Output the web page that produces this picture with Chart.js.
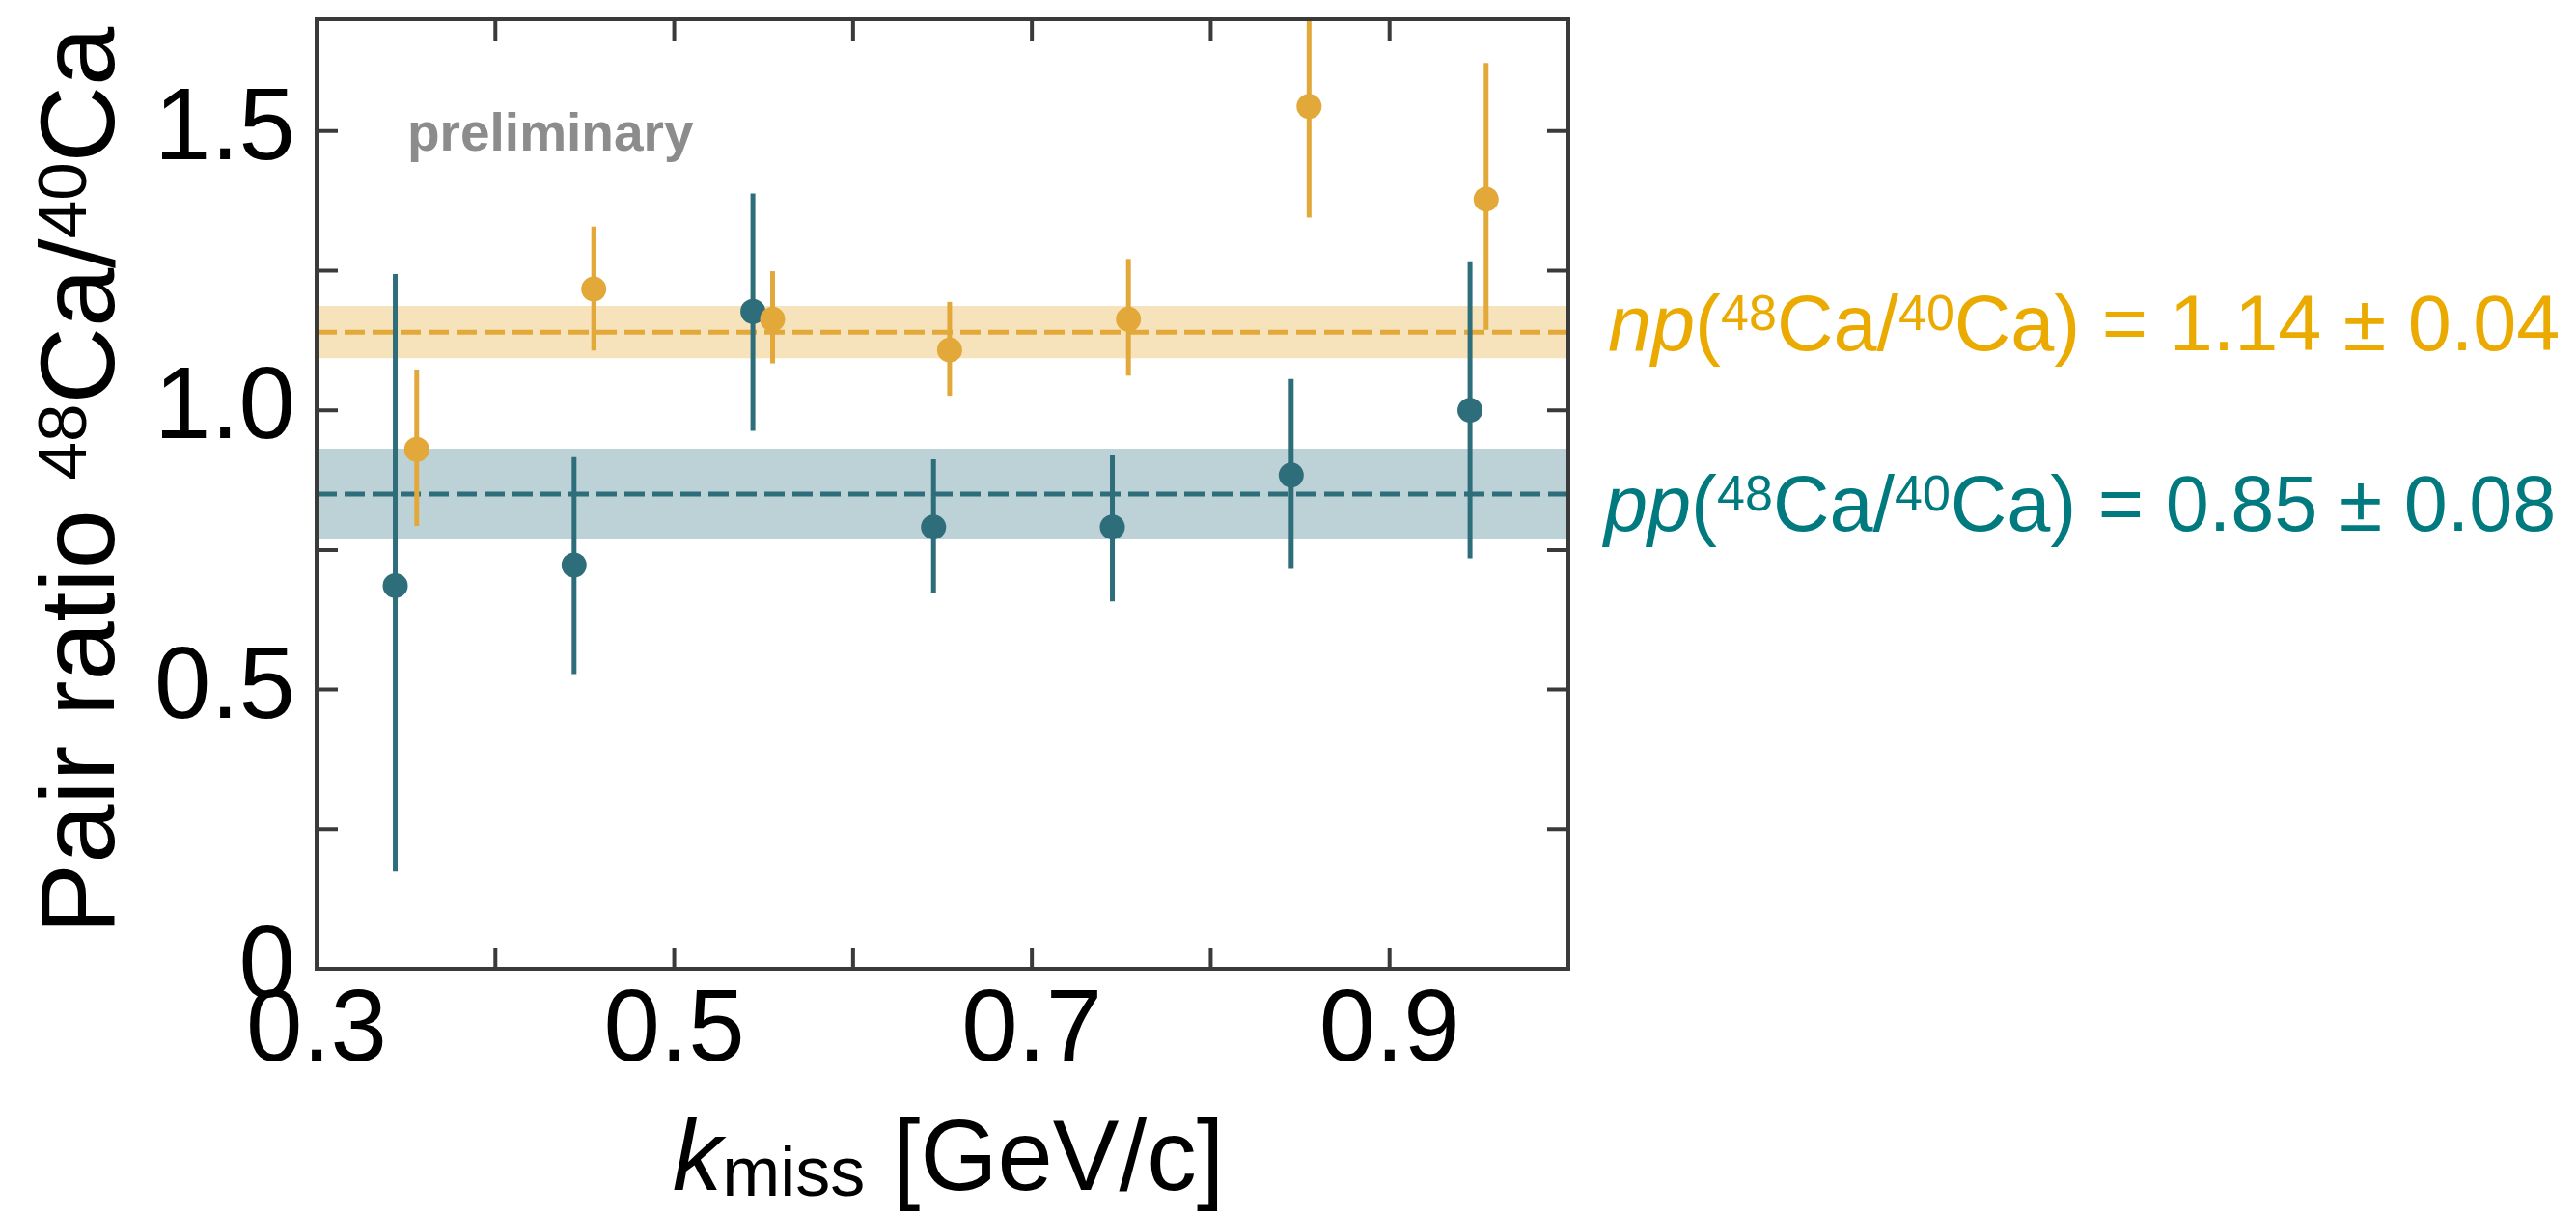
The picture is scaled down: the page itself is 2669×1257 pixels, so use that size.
<!DOCTYPE html>
<html>
<head>
<meta charset="utf-8">
<script src="https://cdn.jsdelivr.net/npm/chart.js@4/dist/chart.umd.min.js"></script>
<style>
  body { margin: 0; background: #fff; }
  canvas { display: block; }
</style>
</head>
<body>
<canvas id="chart" width="2669" height="1257"></canvas>
<script>
// k_miss bin centres (slightly offset per channel, as in the figure)
const ppX = [0.344, 0.444, 0.544, 0.645, 0.745, 0.845, 0.945];
const ppY = [0.686, 0.723, 1.177, 0.791, 0.791, 0.884, 1.0];
const ppHi = [1.244, 0.916, 1.388, 0.912, 0.921, 1.056, 1.267];
const ppLo = [0.174, 0.528, 0.963, 0.672, 0.658, 0.716, 0.735];

const npX = [0.356, 0.455, 0.555, 0.654, 0.754, 0.855, 0.954];
const npY = [0.930, 1.217, 1.163, 1.108, 1.163, 1.544, 1.378];
const npHi = [1.073, 1.329, 1.249, 1.194, 1.271, 1.80, 1.622];
const npLo = [0.793, 1.107, 1.084, 1.026, 1.062, 1.345, 1.144];

// fitted averages and bands
const npMean = 1.14, npBand = 0.047;
const ppMean = 0.85, ppBand = 0.081;
const xRange = [0.3, 1.0];
const yRange = [0, 1.7];

const xTickLabels = ['0.3', '0.5', '0.7', '0.9'];
const yTickValues = [0, 0.5, 1.0, 1.5];
const yTickLabels = ['0', '0.5', '1.0', '1.5'];

const ORANGE = '#E2A93A';
const TEAL = '#2E6E7A';
const ORANGE_TEXT = '#EAAA00';
const TEAL_TEXT = '#007A7E';
const FRAME = '#3a3a3a';
const FONT = '"Liberation Sans", Arial, Helvetica, sans-serif';

function pts(xs, ys) {
  return xs.map(function (x, i) { return { x: x, y: ys[i] }; });
}
function flat(v) {
  return xRange.map(function (x) { return { x: x, y: v }; });
}

const errors = {
  pp: { x: ppX, lo: ppLo, hi: ppHi, color: TEAL },
  np: { x: npX, lo: npLo, hi: npHi, color: ORANGE }
};

// draws text made of pieces with different size / style / raise
function drawRich(ctx, parts, x, y, color, align) {
  ctx.fillStyle = color;
  ctx.textBaseline = 'alphabetic';
  ctx.textAlign = 'left';
  let total = 0;
  parts.forEach(function (p) {
    ctx.font = (p.italic ? 'italic ' : '') + (p.bold ? 'bold ' : '') + p.size + 'px ' + FONT;
    p.w = ctx.measureText(p.text).width;
    total += p.w;
  });
  let cx = align === 'center' ? x - total / 2 : x;
  parts.forEach(function (p) {
    ctx.font = (p.italic ? 'italic ' : '') + (p.bold ? 'bold ' : '') + p.size + 'px ' + FONT;
    ctx.fillText(p.text, cx, y - (p.dy || 0));
    cx += p.w;
  });
}

const errorBars = {
  id: 'errorBars',
  beforeDatasetDraw(chart, args) {
    const key = chart.data.datasets[args.index].errKey;
    if (!key) return;
    const e = errors[key];
    const xs = chart.scales.x, ys = chart.scales.y, a = chart.chartArea;
    const ctx = chart.ctx;
    ctx.save();
    ctx.beginPath();
    ctx.rect(a.left, a.top, a.right - a.left, a.bottom - a.top);
    ctx.clip();
    ctx.strokeStyle = e.color;
    ctx.lineWidth = 5;
    e.x.forEach(function (x, i) {
      const px = xs.getPixelForValue(x);
      ctx.beginPath();
      ctx.moveTo(px, ys.getPixelForValue(e.lo[i]));
      ctx.lineTo(px, ys.getPixelForValue(e.hi[i]));
      ctx.stroke();
    });
    ctx.restore();
  }
};

const decorations = {
  id: 'decorations',
  afterDraw(chart) {
    const ctx = chart.ctx, a = chart.chartArea;
    const xs = chart.scales.x, ys = chart.scales.y;
    ctx.save();
    // frame
    ctx.strokeStyle = FRAME;
    ctx.lineWidth = 4;
    ctx.strokeRect(a.left, a.top, a.right - a.left, a.bottom - a.top);
    // inward ticks on all sides
    const tl = 22;
    ctx.beginPath();
    xs.ticks.forEach(function (t) {
      if (t.value <= xRange[0] + 1e-6 || t.value >= xRange[1] - 1e-6) return;
      const px = xs.getPixelForValue(t.value);
      ctx.moveTo(px, a.bottom); ctx.lineTo(px, a.bottom - tl);
      ctx.moveTo(px, a.top); ctx.lineTo(px, a.top + tl);
    });
    ys.ticks.forEach(function (t) {
      if (t.value <= yRange[0] + 1e-6 || t.value >= yRange[1] - 1e-6) return;
      const py = ys.getPixelForValue(t.value);
      ctx.moveTo(a.left, py); ctx.lineTo(a.left + tl, py);
      ctx.moveTo(a.right, py); ctx.lineTo(a.right - tl, py);
    });
    ctx.stroke();

    // preliminary
    drawRich(ctx, [{ text: 'preliminary', size: 55, bold: true }], 422, 156, '#8c8c8c');

    // x title
    drawRich(ctx, [
      { text: 'k', size: 103, italic: true },
      { text: 'miss', size: 72, dy: -6 },
      { text: ' [GeV/c]', size: 103 }
    ], (a.left + a.right) / 2 + 6, 1233, '#000', 'center');

    // y title (rotated)
    ctx.save();
    ctx.translate(118, 498);
    ctx.rotate(-Math.PI / 2);
    drawRich(ctx, [
      { text: 'Pair ratio ', size: 110 },
      { text: '48', size: 71, dy: 29 },
      { text: 'Ca/', size: 110 },
      { text: '40', size: 71, dy: 29 },
      { text: 'Ca', size: 110 }
    ], 0, 0, '#000', 'center');
    ctx.restore();

    // fit results
    drawRich(ctx, [
      { text: 'np', size: 81, italic: true },
      { text: '(', size: 81 },
      { text: '48', size: 52, dy: 21 },
      { text: 'Ca/', size: 81 },
      { text: '40', size: 52, dy: 21 },
      { text: 'Ca) = ' + npMean.toFixed(2) + ' \u00b1 0.04', size: 81 }
    ], 1666, 363, ORANGE_TEXT);
    drawRich(ctx, [
      { text: 'pp', size: 81, italic: true },
      { text: '(', size: 81 },
      { text: '48', size: 52, dy: 21 },
      { text: 'Ca/', size: 81 },
      { text: '40', size: 52, dy: 21 },
      { text: 'Ca) = ' + ppMean.toFixed(2) + ' \u00b1 0.08', size: 81 }
    ], 1662, 550, TEAL_TEXT);
    ctx.restore();
  }
};

const ctx = document.getElementById('chart');

new Chart(ctx, {
  type: 'scatter',
  data: {
    datasets: [
      { data: flat(npMean + npBand), showLine: true, borderWidth: 0, pointRadius: 0, order: 10 },
      { data: flat(npMean - npBand), showLine: true, borderWidth: 0, pointRadius: 0, order: 9,
        fill: '-1', backgroundColor: 'rgba(232, 175, 60, 0.35)' },
      { data: flat(ppMean + ppBand), showLine: true, borderWidth: 0, pointRadius: 0, order: 8 },
      { data: flat(ppMean - ppBand), showLine: true, borderWidth: 0, pointRadius: 0, order: 7,
        fill: '-1', backgroundColor: 'rgba(70, 130, 145, 0.36)' },
      { data: flat(npMean), showLine: true, borderColor: ORANGE, borderWidth: 5,
        borderDash: [21, 8], pointRadius: 0, order: 6 },
      { data: flat(ppMean), showLine: true, borderColor: TEAL, borderWidth: 5,
        borderDash: [21, 8], pointRadius: 0, order: 5 },
      { data: pts(ppX, ppY), errKey: 'pp', pointRadius: 13, pointBackgroundColor: TEAL,
        pointBorderWidth: 0, order: 2 },
      { data: pts(npX, npY), errKey: 'np', pointRadius: 13, pointBackgroundColor: ORANGE,
        pointBorderWidth: 0, order: 1 }
    ]
  },
  options: {
    responsive: false,
    animation: false,
    devicePixelRatio: 1,
    layout: { padding: { left: 0, right: 1044, top: 20, bottom: 0 } },
    plugins: {
      legend: { display: false },
      tooltip: { enabled: false }
    },
    scales: {
      x: {
        type: 'linear',
        min: xRange[0],
        max: xRange[1],
        grid: { display: false, drawTicks: false },
        border: { display: false },
        afterFit: function (s) {
          s.height = 253;
          s.paddingLeft = 0; s.paddingRight = 0;
        },
        ticks: {
          stepSize: 0.1,
          includeBounds: false,
          autoSkip: false,
          maxRotation: 0,
          padding: 3,
          color: '#000',
          font: { family: FONT, size: 105 },
          callback: function (v) {
            const s = Number(v).toFixed(1);
            return xTickLabels.indexOf(s) >= 0 ? s : '';
          }
        }
      },
      y: {
        min: yRange[0],
        max: yRange[1],
        grid: { display: false, drawTicks: false },
        border: { display: false },
        afterFit: function (s) {
          s.width = 328;
          s.paddingTop = 0; s.paddingBottom = 0;
        },
        ticks: {
          stepSize: 0.25,
          includeBounds: false,
          autoSkip: false,
          padding: 22,
          color: '#000',
          font: { family: FONT, size: 105 },
          callback: function (v) {
            const i = yTickValues.findIndex(function (t) { return Math.abs(t - v) < 1e-6; });
            return i >= 0 ? yTickLabels[i] : '';
          }
        }
      }
    }
  },
  plugins: [errorBars, decorations]
});
</script>
</body>
</html>
